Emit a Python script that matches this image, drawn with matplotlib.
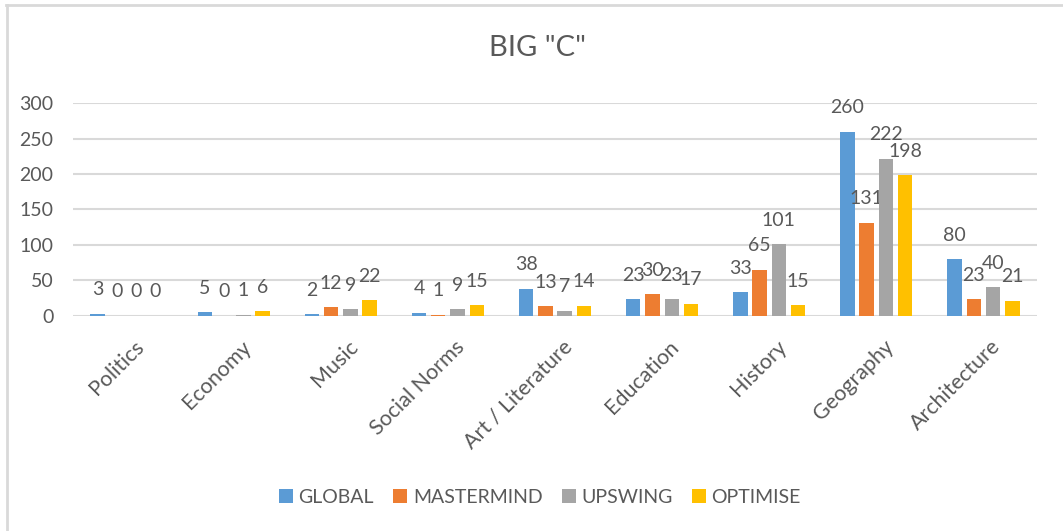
import matplotlib
matplotlib.use("Agg")
import matplotlib.pyplot as plt
from matplotlib.lines import Line2D
from matplotlib.transforms import ScaledTranslation
import numpy as np

categories = ["Politics", "Economy", "Music", "Social Norms", "Art / Literature",
              "Education", "History", "Geography", "Architecture"]
series_names = ["GLOBAL", "MASTERMIND", "UPSWING", "OPTIMISE"]
global_vals = [3, 5, 2, 4, 38, 23, 33, 260, 80]
mastermind_vals = [0, 0, 12, 1, 13, 30, 65, 131, 23]
upswing_vals = [0, 1, 9, 9, 7, 23, 101, 222, 40]
optimise_vals = [0, 6, 22, 15, 14, 17, 15, 198, 21]
yticks = [0, 50, 100, 150, 200, 250, 300]

colors = ["#5B9BD5", "#ED7D31", "#A5A5A5", "#FFC000"]
txt = "#595959"
plt.rcParams['font.family'] = ['Lato', 'DejaVu Sans']

fig = plt.figure(figsize=(10.63, 5.31), dpi=100)
ax = fig.add_axes([0.0687, 0.4055, 0.9068, 0.40])

x = np.arange(len(categories))
step = 0.18
width = 0.135
all_vals = [global_vals, mastermind_vals, upswing_vals, optimise_vals]
for i, (name, vals) in enumerate(zip(series_names, all_vals)):
    pos = x + (i - 1.5) * step
    ax.bar(pos, vals, width, color=colors[i], label=name, zorder=3)
    for px, v in zip(pos, vals):
        ax.annotate(str(v), (px, v), xytext=(0, 24), textcoords='offset pixels',
                    ha='center', va='center', fontsize=14, color=txt)

ax.set_xlim(-0.5, len(categories) - 0.5)
ax.set_ylim(0, 300)
ax.set_yticks(yticks)
ax.yaxis.grid(True, color="#D9D9D9", linewidth=1.5, zorder=0)
ax.set_axisbelow(True)
for s in ax.spines.values():
    s.set_visible(False)
ax.tick_params(axis='both', length=0, colors=txt, labelsize=14)
ax.tick_params(axis='y', pad=14)
ax.set_xticks(x)
ax.set_xticklabels(categories, rotation=45, ha='right', va='top',
                   rotation_mode='anchor', fontsize=15.5)
ax.tick_params(axis='x', pad=15)
# nudge category labels a little right, like excel does
shift = ScaledTranslation(0.07, 0, fig.dpi_scale_trans)
for lab in ax.get_xticklabels():
    lab.set_transform(lab.get_transform() + shift)

fig.text(0.506, 0.91, 'BIG "C"', ha='center', va='center', fontsize=21, color=txt)

leg = fig.legend(loc='center', bbox_to_anchor=(0.508, 0.064), ncol=4, frameon=False,
                 fontsize=14, handlelength=0.7, handleheight=0.7, handletextpad=0.3,
                 columnspacing=1.0, labelcolor=txt)

# chart border (top and left visible)
fig.add_artist(Line2D([0.006, 1.0], [0.991, 0.991], color="#D9D9D9", lw=2,
                      transform=fig.transFigure))
fig.add_artist(Line2D([0.0068, 0.0068], [0.0, 0.991], color="#D9D9D9", lw=2,
                      transform=fig.transFigure))

fig.savefig("out.png", dpi=100)
